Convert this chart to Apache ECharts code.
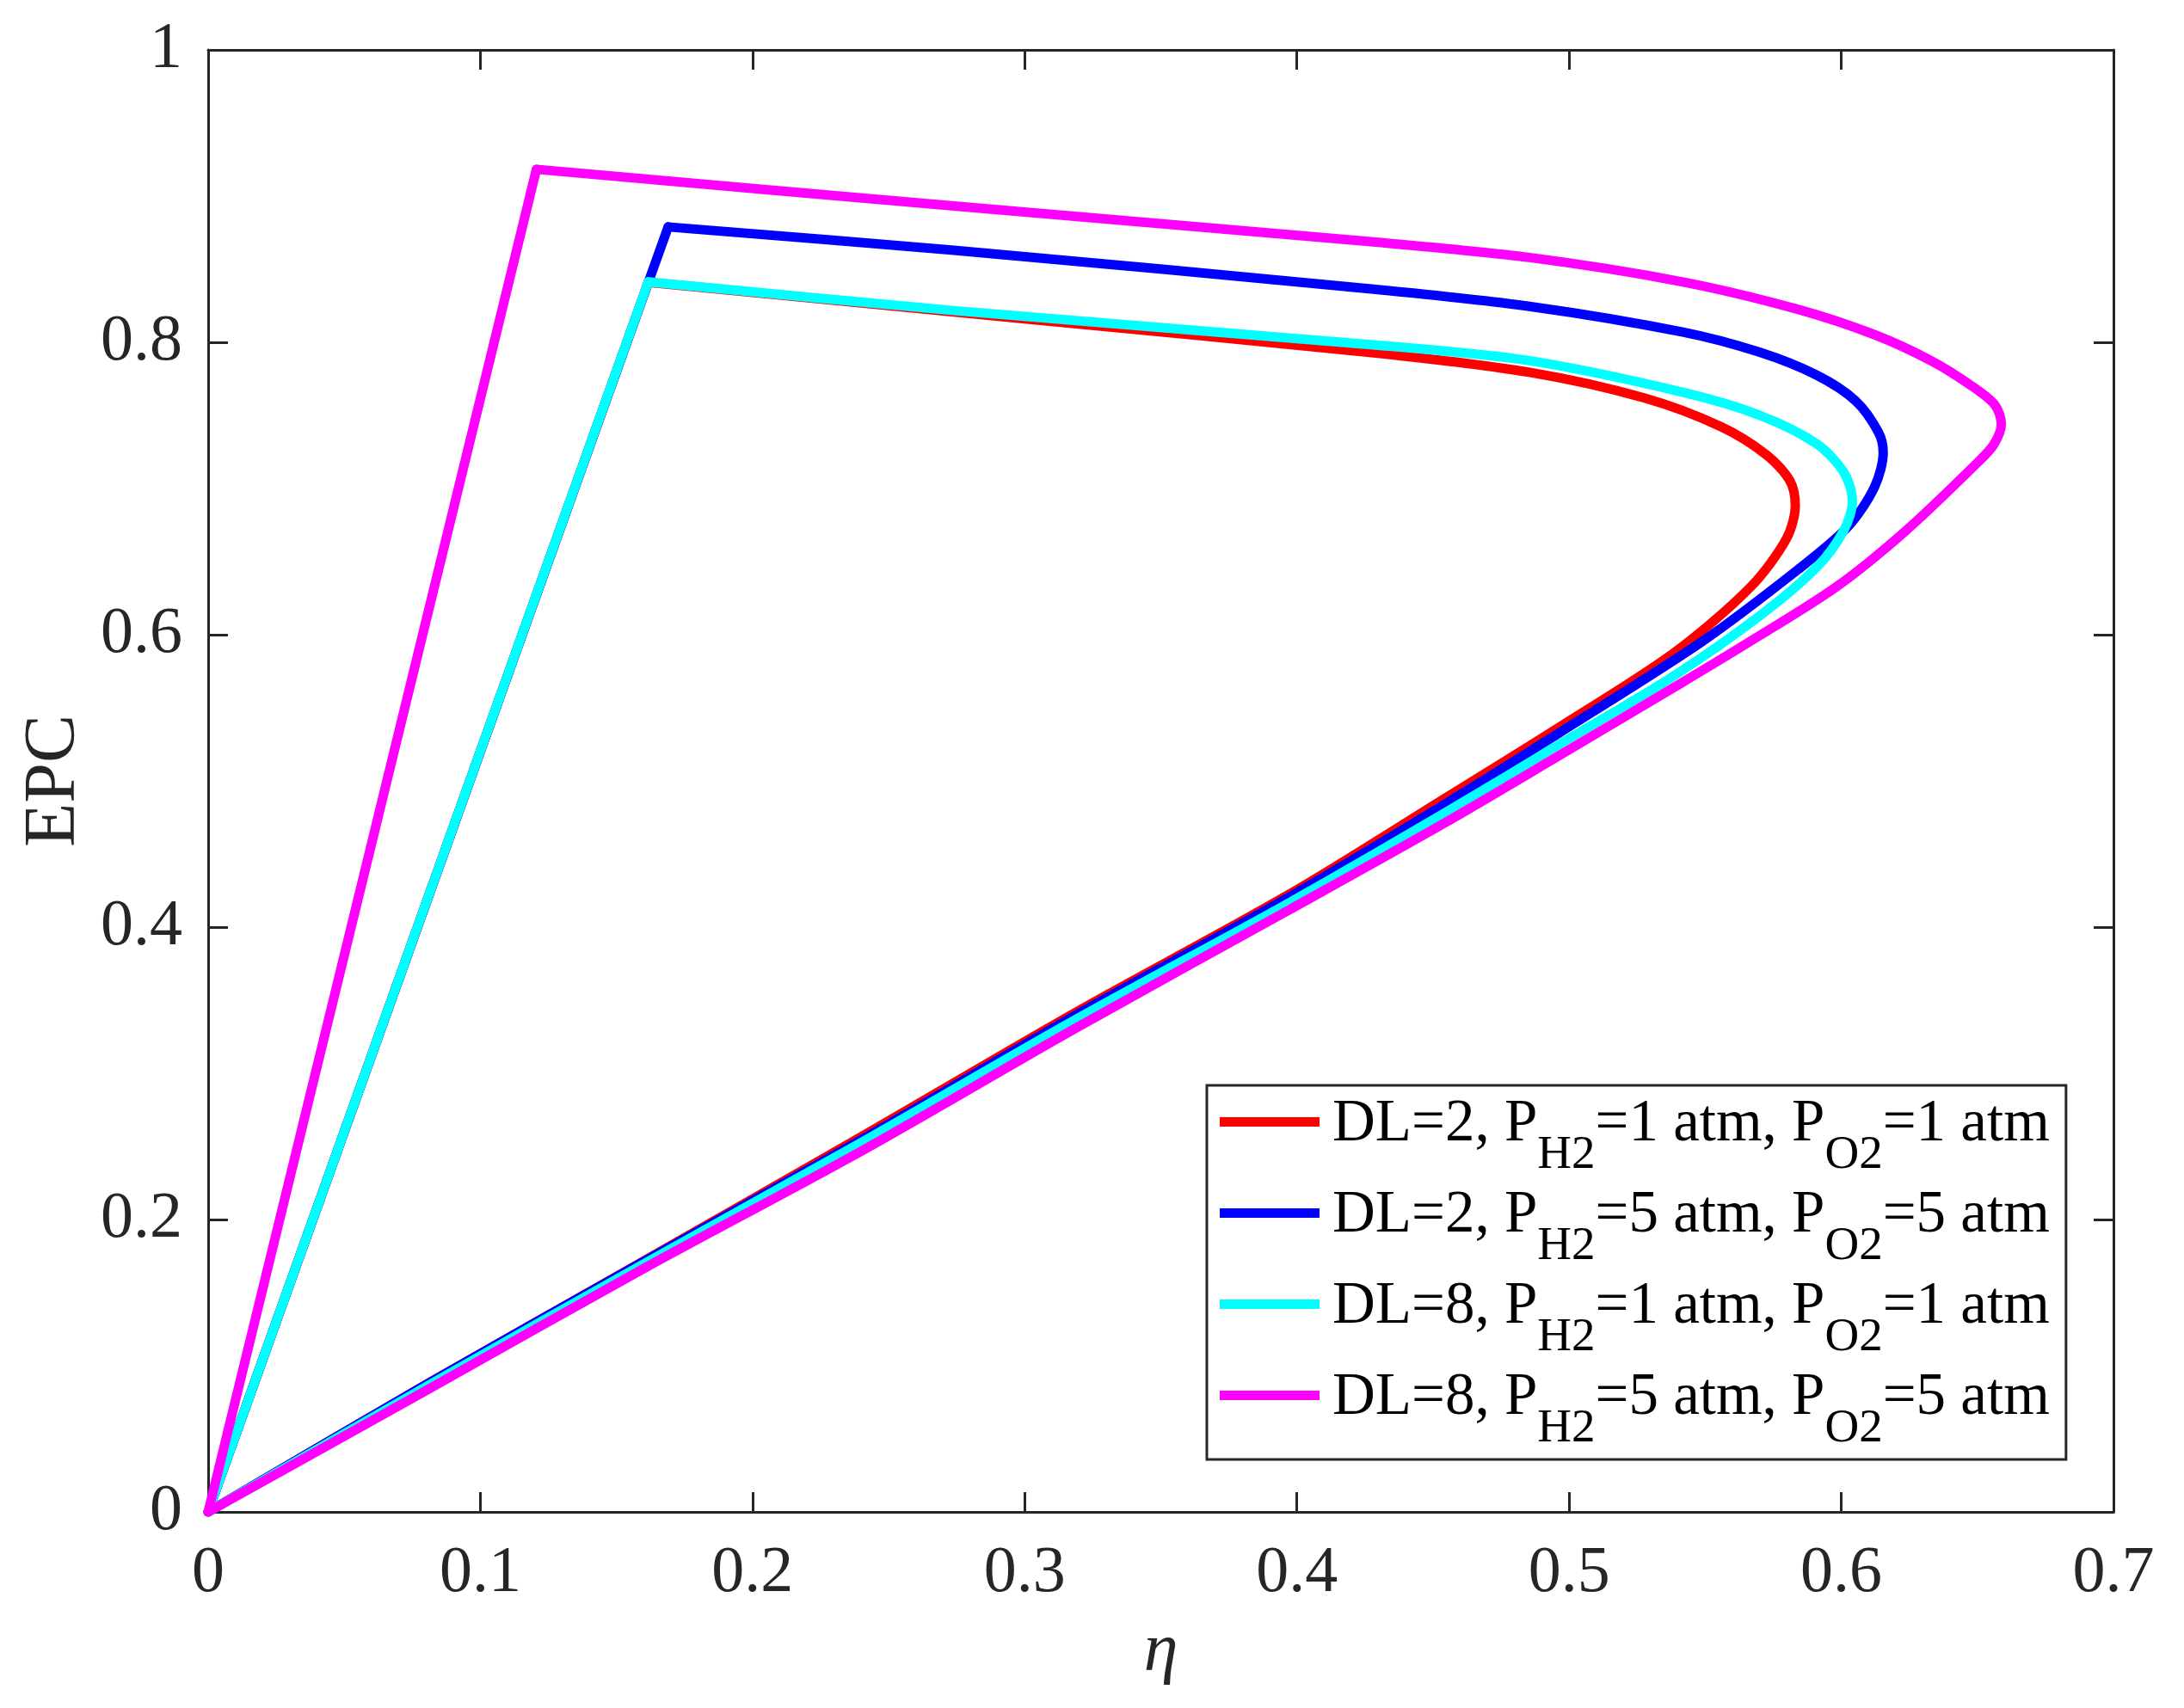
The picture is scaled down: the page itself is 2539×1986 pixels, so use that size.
<!DOCTYPE html>
<html>
<head>
<meta charset="utf-8">
<script src="https://cdn.jsdelivr.net/npm/echarts@6/dist/echarts.min.js"></script>
<style>
html,body{margin:0;padding:0;background:#fff;}
#chart{width:2539px;height:1986px;}
</style>
</head>
<body>
<div id="chart"></div>
<script>
// ---- data (η, EPC) ----
// point 0 -> point 1 is the straight rising line; from point 1 on the loop is curved
const dlValues = [2, 2, 8, 8];
const pressures = [1, 5, 1, 5];
const seriesColors = ['#ff0000', '#0000ff', '#00ffff', '#ff00ff'];

const curveDL2P1 = [[0,0],[0.1617,0.8410],[0.30,0.8160],[0.429,0.7927],[0.4854,0.7795],[0.5277,0.7619],[0.5559,0.7422],[0.5728,0.7226],[0.5812,0.7050],[0.5831,0.6884],[0.5799,0.6658],[0.5666,0.6325],[0.5384,0.5874],[0.4961,0.5364],[0.4538,0.4874],[0.3973,0.4226],[0.3184,0.3413],[0.2394,0.2560],[0.1604,0.1720],[0.0814,0.0885],[0,0]];
const curveDL2P5 = [[0,0],[0.1690,0.8789],[0.274,0.8630],[0.429,0.8362],[0.4854,0.8246],[0.5418,0.8070],[0.5700,0.7932],[0.5910,0.7775],[0.6053,0.7599],[0.6137,0.7383],[0.6154,0.7246],[0.6122,0.7010],[0.6024,0.6738],[0.5840,0.6444],[0.5488,0.5952],[0.4961,0.5325],[0.4538,0.4834],[0.3973,0.4207],[0.3184,0.3394],[0.2394,0.2540],[0.1604,0.1716],[0.0814,0.0885],[0,0]];
const curveDL8P1 = [[0,0],[0.1617,0.8413],[0.274,0.8217],[0.429,0.7981],[0.4854,0.7874],[0.5418,0.7658],[0.5700,0.7501],[0.5910,0.7305],[0.6010,0.7109],[0.6041,0.6913],[0.6010,0.6716],[0.5910,0.6462],[0.5700,0.6128],[0.5384,0.5717],[0.4961,0.5246],[0.4538,0.4775],[0.3973,0.4168],[0.3184,0.3364],[0.2394,0.2520],[0.1604,0.1700],[0.0814,0.0870],[0,0]];
const curveDL8P5 = [[0,0],[0.1206,0.9183],[0.274,0.8932],[0.429,0.8685],[0.4854,0.8580],[0.5418,0.8413],[0.5840,0.8226],[0.6125,0.8050],[0.6334,0.7870],[0.6480,0.7700],[0.6565,0.7570],[0.6588,0.7440],[0.6560,0.7300],[0.6502,0.7180],[0.6240,0.6716],[0.5980,0.6325],[0.5644,0.5930],[0.5384,0.5638],[0.4961,0.5170],[0.4538,0.4707],[0.3973,0.4119],[0.3184,0.3305],[0.2394,0.2462],[0.1604,0.1668],[0.0814,0.0844],[0,0]];
const curves = [curveDL2P1, curveDL2P5, curveDL8P1, curveDL8P5];

const xTicks = [0, 0.1, 0.2, 0.3, 0.4, 0.5, 0.6, 0.7];
const yTicks = [0, 0.2, 0.4, 0.6, 0.8, 1];

const seriesNames = dlValues.map((d, i) => 'DL=' + d + ', PH2=' + pressures[i] + ' atm, PO2=' + pressures[i] + ' atm');

const FONT = 'Liberation Serif';
const AX = '#262626';

function axisCommon(pos, showLabels, ticks) {
  return {
    type: 'value',
    position: pos,
    min: ticks[0],
    max: ticks[ticks.length - 1],
    interval: ticks[1] - ticks[0],
    axisLine: {show: true, onZero: false, lineStyle: {color: AX, width: 3}},
    axisTick: {show: true, inside: true, length: 23, lineStyle: {color: AX, width: 3}},
    splitLine: {show: false},
    axisLabel: {show: showLabels, fontFamily: FONT, fontSize: 76, color: AX, showMinLabel: true, showMaxLabel: true}
  };
}

const xBottom = axisCommon('bottom', true, xTicks);
xBottom.axisLabel.margin = 34;
xBottom.name = 'η';
xBottom.nameLocation = 'middle';
xBottom.nameGap = 123;
xBottom.nameTextStyle = {fontFamily: FONT, fontSize: 80, fontStyle: 'italic', color: AX};
const xTop = axisCommon('top', false, xTicks);

const yLeft = axisCommon('left', true, yTicks);
yLeft.axisLabel.margin = 30;
yLeft.name = 'EPC';
yLeft.nameLocation = 'middle';
yLeft.nameGap = 123;
yLeft.nameTextStyle = {fontFamily: FONT, fontSize: 84, color: AX};
const yRight = axisCommon('right', false, yTicks);

const series = [];
curves.forEach((c, i) => {
  const base = {
    name: seriesNames[i],
    type: 'line',
    xAxisIndex: 0,
    yAxisIndex: 0,
    symbol: 'none',
    showSymbol: false,
    color: seriesColors[i],
    lineStyle: {color: seriesColors[i], width: 11, join: 'round', cap: 'round'},
    z: 2 + i
  };
  // straight rising segment
  series.push(Object.assign({}, base, {data: c.slice(0, 2), smooth: false}));
  // curved loop back to the origin
  series.push(Object.assign({}, base, {data: c.slice(1), smooth: 0.3}));
});

const chart = echarts.init(document.getElementById('chart'), null, {renderer: 'canvas'});
chart.setOption({
  animation: false,
  backgroundColor: '#ffffff',
  grid: {left: 242, right: 82, top: 58, bottom: 228, containLabel: false},
  xAxis: [xBottom, xTop],
  yAxis: [yLeft, yRight],
  legend: {
    orient: 'vertical',
    left: 1403,
    top: 1262,
    padding: [8, 19, 8, 15],
    itemGap: 5,
    itemWidth: 116,
    itemHeight: 11,
    icon: 'rect',
    borderColor: AX,
    borderWidth: 3,
    backgroundColor: '#ffffff',
    data: seriesNames,
    formatter: function (name) {
      const i = seriesNames.indexOf(name);
      const p = pressures[i];
      return '{a|DL=' + dlValues[i] + ', P}{s|H2}{n|=' + p + ' atm, P}{s|O2}{n|=' + p + ' atm}';
    },
    textStyle: {
      fontFamily: FONT, fontSize: 69, color: '#000',
      rich: {
        a: {fontFamily: FONT, fontSize: 69, color: '#000', lineHeight: 69, padding: [3, 0, 0, 10], verticalAlign: 'top'},
        n: {fontFamily: FONT, fontSize: 69, color: '#000', lineHeight: 69, padding: [3, 0, 0, 0], verticalAlign: 'top'},
        s: {fontFamily: FONT, fontSize: 55, color: '#000', lineHeight: 55, padding: [46, 0, 0, 0], verticalAlign: 'top'}
      }
    }
  },
  series: series
});
</script>
</body>
</html>
